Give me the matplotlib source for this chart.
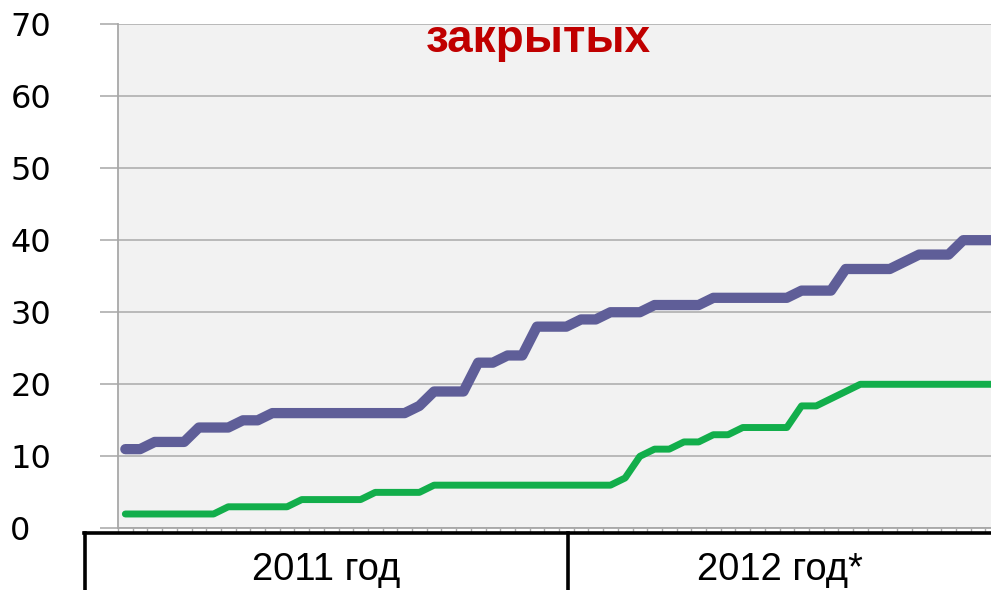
import matplotlib
matplotlib.use("Agg")
import matplotlib.pyplot as plt
from matplotlib.lines import Line2D
import numpy as np

# ---- data ----
blue_values = [11, 11, 12, 12, 12, 14, 14, 14, 15, 15,
               16, 16, 16, 16, 16, 16, 16, 16, 16, 16,
               17, 19, 19, 19, 23, 23, 24, 24, 28, 28,
               28, 29, 29, 30, 30, 30, 31, 31, 31, 31,
               32, 32, 32, 32, 32, 32, 33, 33, 33, 36,
               36, 36, 36, 37, 38, 38, 38, 40, 40, 40]
green_values = [2, 2, 2, 2, 2, 2, 2, 3, 3, 3,
                3, 3, 4, 4, 4, 4, 4, 5, 5, 5,
                5, 6, 6, 6, 6, 6, 6, 6, 6, 6,
                6, 6, 6, 6, 7, 10, 11, 11, 12, 12,
                13, 13, 14, 14, 14, 14, 17, 17, 18, 19,
                20, 20, 20, 20, 20, 20, 20, 20, 20, 20]
y_ticks = [0, 10, 20, 30, 40, 50, 60, 70]
period_labels = ["2011 год", "2012 год*"]
title_text = "закрытых"

W, H = 991, 590
fig = plt.figure(figsize=(W / 100, H / 100), dpi=100)
fig.patch.set_facecolor("white")

ax_left, ax_right = 118, 991
ax_top, ax_bottom = 24, 528.4
ax = fig.add_axes([ax_left / W, 1 - ax_bottom / H,
                   (ax_right - ax_left) / W, (ax_bottom - ax_top) / H])
ax.set_facecolor("#F2F2F2")

x = np.arange(len(blue_values))
step = 14.7
xmax = -0.5 + (ax_right - ax_left) / step
ax.set_xlim(-0.5, xmax)
ax.set_ylim(0, 70)

ax.plot(x, blue_values, color="#5F5E98", lw=7.4, solid_capstyle="round",
        solid_joinstyle="round", zorder=3)
ax.plot(x, green_values, color="#12AE4B", lw=5.0, solid_capstyle="round",
        solid_joinstyle="round", zorder=3)

# grid
ax.set_yticks(y_ticks)
ax.yaxis.grid(True, color="#B4B4B4", lw=1.3)
ax.set_axisbelow(True)
for s in ["top", "right"]:
    ax.spines[s].set_visible(False)
ax.spines["left"].set_color("#A8A8A8")
ax.spines["left"].set_linewidth(1.3)
ax.spines["bottom"].set_color("#A8A8A8")
ax.spines["bottom"].set_linewidth(1.3)

ax.tick_params(axis="y", direction="out", length=13, width=1.3, color="#B4B4B4",
               pad=64.5, labelsize=23, labelcolor="black")
for lbl in ax.get_yticklabels():
    lbl.set_horizontalalignment("left")
    lbl.set_fontfamily("DejaVu Sans")

ax.set_xticks(np.arange(-0.5, xmax, 1.0))
ax.tick_params(axis="x", direction="out", length=3, width=1, color="#A8A8A8",
               labelbottom=False)

# title fragment
fig.text(538 / W, 1 - 52 / H, title_text, color="#C00000", fontsize=33,
         fontweight="bold", family="Liberation Sans", ha="center", va="baseline")

# bottom table
lw_box = 2.6
y_top_box = 1 - 533 / H
fig.add_artist(Line2D([84 / W, 1.0], [y_top_box, y_top_box], color="black",
                      lw=lw_box, transform=fig.transFigure))
fig.add_artist(Line2D([85 / W, 85 / W], [0, y_top_box], color="black",
                      lw=lw_box, transform=fig.transFigure))
fig.add_artist(Line2D([568 / W, 568 / W], [0, y_top_box], color="black",
                      lw=lw_box, transform=fig.transFigure))

fig.text(326.5 / W, 1 - 580 / H, period_labels[0], fontsize=27.5,
         family="Liberation Sans", ha="center", va="baseline", color="black")
fig.text(780 / W, 1 - 580 / H, period_labels[1], fontsize=27.5,
         family="Liberation Sans", ha="center", va="baseline", color="black")

fig.savefig("out.png", dpi=100, facecolor="white")
